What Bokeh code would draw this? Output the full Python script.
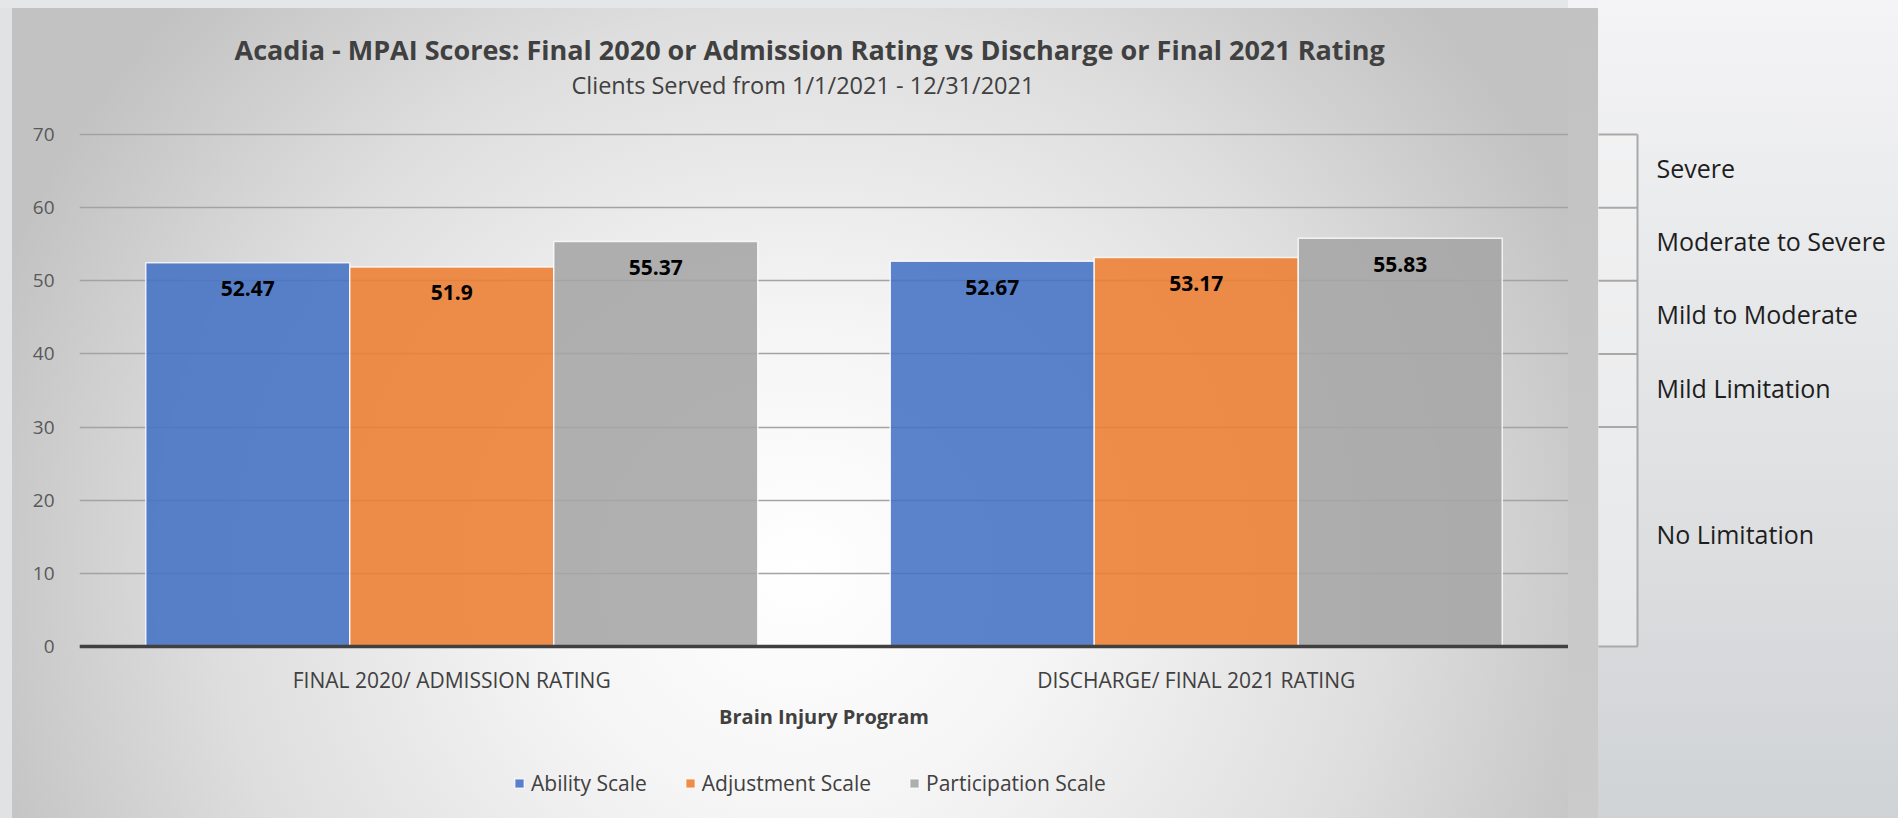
from bokeh.plotting import figure
from bokeh.models import (ColumnDataSource, FixedTicker, Legend, LegendItem, Title,
                          FactorRange, Range1d)
from bokeh.transform import dodge
from bokeh.layouts import row
from bokeh.core.properties import value
from bokeh.embed import file_html
from bokeh.resources import INLINE

# ---------------- data ----------------
categories = ["FINAL 2020/ ADMISSION RATING", "DISCHARGE/ FINAL 2021 RATING"]
ability = [52.47, 52.67]
adjustment = [51.9, 53.17]
participation = [55.37, 55.83]
series_names = ["Ability Scale", "Adjustment Scale", "Participation Scale"]
series_colors = ["#4472C4", "#ED7D31", "#A5A5A5"]
y_ticks = [0, 10, 20, 30, 40, 50, 60, 70]
band_edges = [0, 30, 40, 50, 60, 70]
band_labels = ["No Limitation", "Mild Limitation", "Mild to Moderate",
               "Moderate to Severe", "Severe"]
title_text = "Acadia - MPAI Scores: Final 2020 or Admission Rating vs Discharge or Final 2021 Rating"
subtitle_text = "Clients Served from 1/1/2021 - 12/31/2021"
x_title = "Brain Injury Program"

FONT = "Open Sans"
H = 818
TOP = 119
scale = 512 / 70.0                 # pixels per unit on the value axis
y_top = 70 + 15 / scale            # headroom above 70
y_bottom = -(H - 646) / scale      # room below 0 for labels and legend

src = ColumnDataSource(dict(cat=categories, ability=ability, adjustment=adjustment,
                            participation=participation,
                            ability_t=[str(v) for v in ability],
                            adjustment_t=[str(v) for v in adjustment],
                            participation_t=[str(v) for v in participation]))

p = figure(x_range=FactorRange(*categories), y_range=Range1d(y_bottom, y_top),
           width=1568, height=H, output_backend="svg", toolbar_location=None,
           title=None, min_border_left=79, min_border_right=0,
           min_border_top=TOP, min_border_bottom=0)
p.background_fill_color = None
p.border_fill_color = None
p.outline_line_color = None
p.styles = {
    "background": "linear-gradient(#e5e6e8, #e5e6e8) 0 0 / 100% 8px no-repeat, "
                  "linear-gradient(#e0e2e4, #e0e2e4) 0 0 / 12px 100% no-repeat, "
                  "radial-gradient(ellipse 860px 820px at 800px 570px, #ffffff 0%, #f5f5f5 30%, "
                  "#dedede 68%, #c2c2c2 100%)"
}

p.add_layout(Title(text=subtitle_text, align="left", offset=492, text_font=FONT,
                   text_font_size="23.5px", text_font_style="normal",
                   text_color="#404040", standoff=38), "above")
p.add_layout(Title(text=title_text, align="left", offset=155, text_font=FONT,
                   text_font_size="27px", text_font_style="bold",
                   text_color="#404040", standoff=-40), "above")

keys = ["ability", "adjustment", "participation"]
offsets = [-0.274, 0.0, 0.274]
renderers = []
for key, off, col in zip(keys, offsets, series_colors):
    r = p.vbar(x=dodge("cat", off, range=p.x_range), top=key, bottom=0, width=0.274,
               source=src, fill_color=col, fill_alpha=0.88, line_color="white",
               line_width=1.5, line_alpha=0.8)
    renderers.append(r)
    p.text(x=dodge("cat", off, range=p.x_range), y=key, text=key + "_t", source=src,
           text_align="center", text_baseline="middle", y_offset=26,
           text_font=value(FONT), text_font_style="bold", text_font_size="21px",
           text_color="#000000")

p.yaxis.ticker = FixedTicker(ticks=y_ticks)
p.yaxis.axis_line_color = None
p.yaxis.major_tick_line_color = None
p.yaxis.minor_tick_line_color = None
p.yaxis.major_label_standoff = 19
p.yaxis.major_label_text_font = FONT
p.yaxis.major_label_text_font_size = "19px"
p.yaxis.major_label_text_color = "#595959"

p.xaxis.fixed_location = 0
p.xaxis.axis_line_color = "#404040"
p.xaxis.axis_line_width = 3.5
p.xaxis.major_tick_line_color = None
p.xaxis.minor_tick_line_color = None
p.xaxis.major_label_standoff = 13
p.xaxis.major_label_text_font = FONT
p.xaxis.major_label_text_font_size = "21px"
p.xaxis.major_label_text_color = "#404040"
p.xaxis.axis_label = x_title
p.xaxis.axis_label_standoff = 6
p.xaxis.axis_label_text_font = FONT
p.xaxis.axis_label_text_font_size = "20px"
p.xaxis.axis_label_text_font_style = "bold"
p.xaxis.axis_label_text_color = "#404040"

p.xgrid.grid_line_color = None
p.ygrid.ticker = FixedTicker(ticks=y_ticks)
p.ygrid.grid_line_color = "#a3a3a3"
p.ygrid.grid_line_width = 1.5

legend = Legend(items=[LegendItem(label=n, renderers=[r]) for n, r in zip(series_names, renderers)],
                orientation="horizontal", location=(434, 21), glyph_width=12, glyph_height=12,
                label_text_font=FONT, label_text_font_size="21px", label_text_color="#404040",
                label_height=20, spacing=37, label_standoff=6, background_fill_alpha=0,
                border_line_color=None, margin=0, padding=0)
p.add_layout(legend)

# ---------------- right-hand severity bracket ----------------
p2 = figure(x_range=Range1d(0, 330), y_range=Range1d(y_bottom, y_top),
            width=330, height=H, output_backend="svg", toolbar_location=None,
            title=None, min_border_left=0, min_border_right=0,
            min_border_top=TOP, min_border_bottom=0)
p2.axis.visible = False
p2.grid.visible = False
p2.background_fill_color = None
p2.border_fill_color = None
p2.outline_line_color = None
p2.styles = {
    "background": "linear-gradient(#f3f3f5, #f3f3f5) 0 0 / 30px 8px no-repeat, "
                  "linear-gradient(to bottom, #c2c2c2, #cbcbcb) 0 0 / 30px 100% no-repeat, "
                  "linear-gradient(to bottom, #f4f4f6, #d0d3d5)"
}
p2.quad(left=[30], right=[69], bottom=[band_edges[0]], top=[band_edges[-1]],
        fill_color="#f6f6f6", fill_alpha=0.5, line_color=None)
p2.segment(x0=[30] * len(band_edges), x1=[69] * len(band_edges), y0=band_edges, y1=band_edges,
           line_color="#a9a9a9", line_width=2)
p2.segment(x0=[69], x1=[69], y0=[band_edges[0]], y1=[band_edges[-1]],
           line_color="#a9a9a9", line_width=2)
mids = [(band_edges[i] + band_edges[i + 1]) / 2 for i in range(len(band_labels))]
p2.text(x=[88] * len(band_labels), y=mids, text=band_labels, text_align="left",
        text_baseline="middle", y_offset=-3, text_font=value("Open Sans"),
        text_font_size="25px", text_color="#1e1e1e")

layout = row(p, p2)
open("out.html", "w").write(file_html(layout, INLINE))
